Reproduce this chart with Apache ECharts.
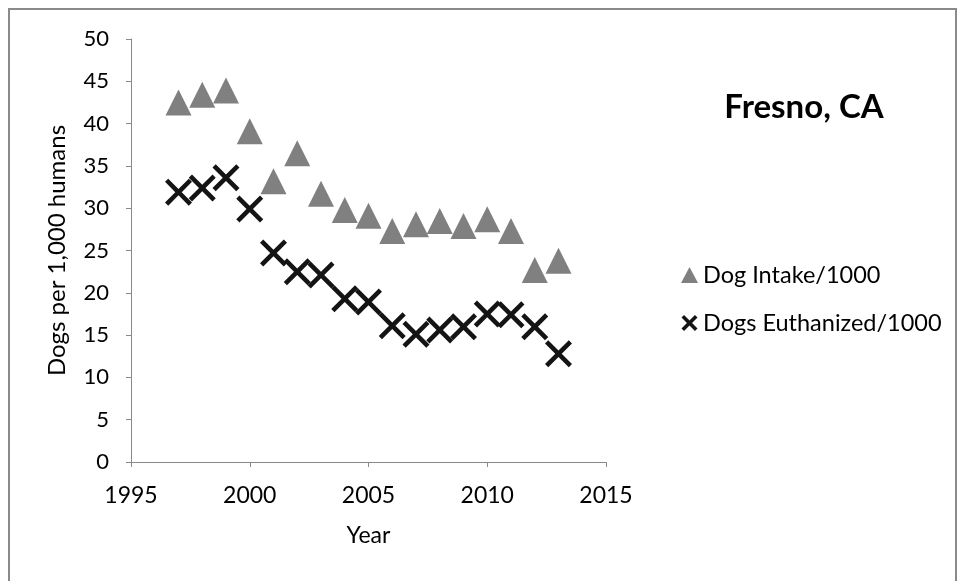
<!DOCTYPE html>
<html>
<head>
<meta charset="utf-8">
<script src="https://cdn.jsdelivr.net/npm/echarts@6/dist/echarts.min.js"></script>
<style>html,body{margin:0;padding:0;background:#fff}#c{width:958px;height:581px}</style>
</head>
<body>
<div id="c"></div>
<script>
const years = [1997,1998,1999,2000,2001,2002,2003,2004,2005,2006,2007,2008,2009,2010,2011,2012,2013];
const intake = [42.5,43.4,43.9,39.1,33.2,36.5,31.7,29.8,29.1,27.3,28.1,28.5,27.9,28.7,27.3,22.7,23.8];
const euthanized = [31.9,32.4,33.6,29.9,24.7,22.5,22.1,19.3,18.9,16.1,15.1,15.6,16.0,17.5,17.4,16.0,12.8];
const xTicks = [1995,2000,2005,2010,2015];
const yTicks = [0,5,10,15,20,25,30,35,40,45,50];

const X_PATH = 'path://M0,12 L12,0 L50,38 L88,0 L100,12 L62,50 L100,88 L88,100 L50,62 L12,100 L0,88 L38,50 Z';
const X_ICON = 'path://M0,16 L16,0 L50,34 L84,0 L100,16 L66,50 L100,84 L84,100 L50,66 L16,100 L0,84 L34,50 Z';
const FONT = 'Lato';

const chart = echarts.init(document.getElementById('c'), null, {renderer:'canvas'});
chart.setOption({
  animation: false,
  backgroundColor: '#fff',
  graphic: [{
    type: 'rect', shape: {x: 9, y: 9, width: 947, height: 600},
    style: {fill: 'none', stroke: '#8a8a8a', lineWidth: 2}, silent: true
  }],
  title: {
    text: 'Fresno, CA', left: 799, top: 86, textAlign: 'center',
    textStyle: {fontFamily: FONT, fontWeight: 'bold', fontSize: 33, color: '#000'}
  },
  legend: {
    orient: 'vertical', left: 676, top: 258, itemGap: 24,
    itemWidth: 17, itemHeight: 16,
    textStyle: {fontFamily: FONT, fontSize: 23.5, color: '#000'},
    data: [
      {name: 'Dog Intake/1000', icon: 'triangle'},
      {name: 'Dogs Euthanized/1000', icon: X_ICON}
    ]
  },
  grid: {left: 131, right: 352, top: 39, bottom: 119, containLabel: false},
  xAxis: {
    type: 'value', min: xTicks[0], max: xTicks[xTicks.length-1], interval: 5,
    name: 'Year', nameLocation: 'middle', nameGap: 62,
    nameTextStyle: {fontFamily: FONT, fontSize: 23, color: '#000'},
    axisLine: {show: true, lineStyle: {color: '#898989', width: 1}},
    axisTick: {show: true, inside: false, length: 5, lineStyle: {color: '#898989'}},
    axisLabel: {fontFamily: FONT, fontSize: 23, color: '#000', margin: 22, formatter: v => String(v)},
    splitLine: {show: false}
  },
  yAxis: {
    type: 'value', min: yTicks[0], max: yTicks[yTicks.length-1], interval: 5,
    name: 'Dogs per 1,000 humans', nameLocation: 'middle', nameGap: 62,
    nameTextStyle: {fontFamily: FONT, fontSize: 24, color: '#000'},
    axisLine: {show: true, lineStyle: {color: '#898989', width: 1}},
    axisTick: {show: true, inside: false, length: 5, lineStyle: {color: '#898989'}},
    axisLabel: {fontFamily: FONT, fontSize: 22, color: '#000', margin: 22},
    splitLine: {show: false}
  },
  series: [
    {
      name: 'Dog Intake/1000', type: 'scatter', symbol: 'triangle', symbolSize: [26,26],
      itemStyle: {color: '#808080', opacity: 1},
      data: years.map((y,i) => [y, intake[i]])
    },
    {
      name: 'Dogs Euthanized/1000', type: 'scatter', symbol: X_PATH, symbolSize: [27,27],
      itemStyle: {color: '#141414', opacity: 1},
      data: years.map((y,i) => [y, euthanized[i]])
    }
  ]
});
</script>
</body>
</html>
